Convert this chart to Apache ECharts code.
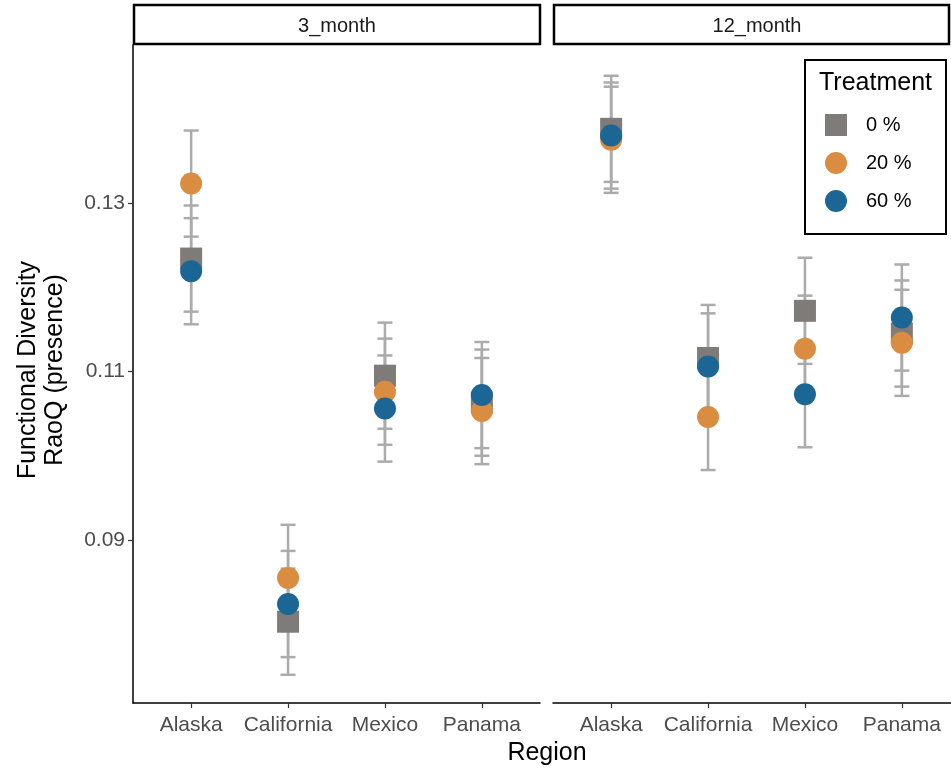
<!DOCTYPE html>
<html>
<head>
<meta charset="utf-8">
<script src="https://cdn.jsdelivr.net/npm/echarts@6/dist/echarts.min.js"></script>
<style>
html,body{margin:0;padding:0;background:#fff}
#main{width:951px;height:771px}
</style>
</head>
<body>
<div id="main"></div>
<script>
var regions = ['Alaska', 'California', 'Mexico', 'Panama'];
var panels = ['3_month', '12_month'];
var treatments = ['0 %', '20 %', '60 %'];
var yTicks = [0.09, 0.11, 0.13];

// 3_month: mean RaoQ per region
var m3_t0  = [0.1234, 0.0803, 0.1095, 0.1063];
var m3_t20 = [0.1323, 0.0855, 0.1076, 0.1053];
var m3_t60 = [0.1219, 0.0824, 0.1056, 0.1072];
// 12_month
var m12_t0  = [0.1388, 0.1116, 0.1172, 0.1145];
var m12_t20 = [0.1375, 0.1046, 0.1127, 0.1134];
var m12_t60 = [0.1380, 0.1106, 0.1073, 0.1164];

// error bar half widths
var m3_t0_err  = [0.0063, 0.0063, 0.0063, 0.0063];
var m3_t20_err = [0.0063, 0.0063, 0.0063, 0.0063];
var m3_t60_err = [0.0063, 0.0063, 0.0063, 0.0063];
var m12_t0_err  = [0.0063, 0.0063, 0.0063, 0.0063];
var m12_t20_err = [0.0063, 0.0063, 0.0063, 0.0063];
var m12_t60_err = [0.0063, 0.0063, 0.0063, 0.0063];

var means = [[m3_t0, m3_t20, m3_t60], [m12_t0, m12_t20, m12_t60]];
var errs = [[m3_t0_err, m3_t20_err, m3_t60_err], [m12_t0_err, m12_t20_err, m12_t60_err]];

var colors = ['#7F7B78', '#DA8C41', '#1B6694'];
var FONT = 'Liberation Sans, Arial, sans-serif';

var myChart = echarts.init(document.getElementById('main'));

// draw one error bar
function renderErr(params, api) {
  var x = api.value(0), lo = api.value(1), hi = api.value(2);
  var a = api.coord([x, lo]);
  var b = api.coord([x, hi]);
  var w = 7.5;
  var st = { stroke: '#ABABAB', lineWidth: 2.5 };
  return {
    type: 'group',
    children: [
      { type: 'line', shape: { x1: a[0], y1: a[1], x2: b[0], y2: b[1] }, style: st },
      { type: 'line', shape: { x1: a[0] - w, y1: a[1], x2: a[0] + w, y2: a[1] }, style: st },
      { type: 'line', shape: { x1: b[0] - w, y1: b[1], x2: b[0] + w, y2: b[1] }, style: st }
    ]
  };
}

var series = [];
// error bars first (underneath)
for (var p = 0; p < 2; p++) {
  for (var t = 0; t < 3; t++) {
    series.push({
      type: 'custom',
      xAxisIndex: p,
      yAxisIndex: p,
      renderItem: renderErr,
      encode: { x: 0, y: [1, 2] },
      z: 1,
      silent: true,
      data: means[p][t].map(function (m, i) {
        return [i + 1, m - errs[p][t][i], m + errs[p][t][i]];
      })
    });
  }
}
for (var p2 = 0; p2 < 2; p2++) {
  for (var t2 = 0; t2 < 3; t2++) {
    series.push({
      name: treatments[t2],
      type: 'scatter',
      xAxisIndex: p2,
      yAxisIndex: p2,
      symbol: t2 === 0 ? 'rect' : 'circle',
      symbolSize: 22,
      itemStyle: { color: colors[t2], opacity: 1 },
      z: 2,
      data: means[p2][t2].map(function (m, i) { return [i + 1, m]; })
    });
  }
}

function xAxisFor(p) {
  return {
    gridIndex: p,
    type: 'value',
    min: 0.4,
    max: 4.6,
    axisLine: { show: true, onZero: false, lineStyle: { color: '#000', width: 1.5 } },
    axisTick: { show: true, customValues: [1, 2, 3, 4], length: 5, lineStyle: { color: '#333', width: 1.2 } },
    axisLabel: {
      customValues: [1, 2, 3, 4],
      formatter: function (v) { return regions[Math.round(v) - 1]; },
      color: '#4D4D4D', fontSize: 21, fontFamily: FONT, margin: 12
    },
    splitLine: { show: false }
  };
}
function yAxisFor(p) {
  return {
    gridIndex: p,
    type: 'value',
    min: 0.07065,
    max: 0.14875,
    axisLine: { show: p === 0, lineStyle: { color: '#000', width: 1.5 } },
    axisTick: { show: p === 0, customValues: yTicks, length: 5, lineStyle: { color: '#333', width: 1.2 } },
    axisLabel: {
      show: p === 0,
      customValues: yTicks,
      formatter: function (v) { return v.toFixed(2); },
      color: '#4D4D4D', fontSize: 21, fontFamily: FONT, margin: 8
    },
    splitLine: { show: false }
  };
}

var option = {
  backgroundColor: '#fff',
  animation: false,
  grid: [
    { left: 133, top: 45, width: 407, height: 658, containLabel: false, outerBoundsMode: 'none' },
    { left: 553, top: 45, width: 407, height: 658, containLabel: false, outerBoundsMode: 'none' }
  ],
  xAxis: [xAxisFor(0), xAxisFor(1)],
  yAxis: [yAxisFor(0), yAxisFor(1)],
  legend: {
    orient: 'vertical',
    left: 825,
    top: 114,
    padding: 0,
    itemWidth: 22,
    itemHeight: 22,
    itemGap: 16,
    selectedMode: false,
    data: [
      { name: '0 %', icon: 'rect' },
      { name: '20 %', icon: 'circle' },
      { name: '60 %', icon: 'circle' }
    ],
    textStyle: { fontSize: 20, color: '#000', fontFamily: FONT, padding: [0, 0, 0, 14] }
  },
  graphic: [
    // facet strips
    { type: 'rect', shape: { x: 134, y: 5, width: 406, height: 39 }, style: { fill: '#fff', stroke: '#000', lineWidth: 2.5 }, z: 10 },
    { type: 'text', x: 337, y: 26, style: { text: panels[0], align: 'center', verticalAlign: 'middle', font: '20px ' + FONT, fill: '#1A1A1A' }, z: 11 },
    { type: 'rect', shape: { x: 554, y: 5, width: 395, height: 39 }, style: { fill: '#fff', stroke: '#000', lineWidth: 2.5 }, z: 10 },
    { type: 'text', x: 757, y: 26, style: { text: panels[1], align: 'center', verticalAlign: 'middle', font: '20px ' + FONT, fill: '#1A1A1A' }, z: 11 },
    // legend box + title
    { type: 'rect', shape: { x: 805, y: 60, width: 141, height: 174 }, style: { fill: '#fff', stroke: '#000', lineWidth: 2 }, z: 0 },
    { type: 'text', x: 819, y: 83, style: { text: 'Treatment', align: 'left', verticalAlign: 'middle', font: '25px ' + FONT, fill: '#000' }, z: 11 },
    // axis titles
    { type: 'text', x: 547, y: 753, style: { text: 'Region', align: 'center', verticalAlign: 'middle', font: '25px ' + FONT, fill: '#000' }, z: 11 },
    { type: 'text', x: 42, y: 370, rotation: Math.PI / 2, style: { text: 'Functional Diversity\nRaoQ (presence)', align: 'center', verticalAlign: 'middle', font: '25px ' + FONT, lineHeight: 27, fill: '#000' }, z: 11 }
  ],
  series: series
};
myChart.setOption(option);
</script>
</body>
</html>
